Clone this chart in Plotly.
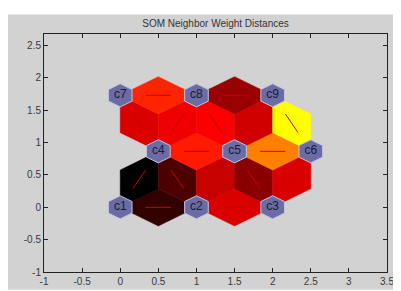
import numpy as np
import plotly.graph_objects as go
from plotly.colors import sample_colorscale

# Neuron positions (hextop 3x3)
neuron_labels = ["c1", "c2", "c3", "c4", "c5", "c6", "c7", "c8", "c9"]
neuron_x = [0.0, 1.0, 2.0, 0.5, 1.5, 2.5, 0.0, 1.0, 2.0]
neuron_y = [0.0, 0.0, 0.0, 0.866, 0.866, 0.866, 1.732, 1.732, 1.732]

# Neighbor pairs (indices into neurons) and normalized weight distances
edge_i = [0, 1, 0, 1, 1, 2, 2, 3, 4, 3, 3, 4, 4, 5, 6, 7]
edge_j = [1, 2, 3, 3, 4, 4, 5, 4, 5, 6, 7, 7, 8, 8, 7, 8]
edge_dist = [0.10, 0.43, 0.00, 0.15, 0.39, 0.27, 0.43, 0.55, 0.75,
             0.43, 0.47, 0.49, 0.41, 1.00, 0.57, 0.30]

x_ticks = [-1, -0.5, 0, 0.5, 1, 1.5, 2, 2.5, 3, 3.5]
y_ticks = [-1, -0.5, 0, 0.5, 1, 1.5, 2, 2.5]

hot = [[0, "#000000"], [0.5, "#ff0000"], [1, "#ffff00"]]
colors = sample_colorscale(hot, edge_dist)

z = np.sqrt(0.75) / 3
fig = go.Figure()

# Neighbor distance patches (rhombi)
for i, j, c in zip(edge_i, edge_j, colors):
    pi = np.array([neuron_x[i], neuron_y[i]])
    pj = np.array([neuron_x[j], neuron_y[j]])
    m = (pi + pj) / 2
    d = pj - pi
    d = d / np.linalg.norm(d)
    n = np.array([-d[1], d[0]])
    pts = [pi, m + n * z, pj, m - n * z, pi]
    fig.add_trace(go.Scatter(x=[p[0] for p in pts], y=[p[1] for p in pts],
                             mode="lines", fill="toself", fillcolor=c,
                             line=dict(color=c, width=0.5), hoverinfo="skip"))

# Red lines inside patches
for i, j in zip(edge_i, edge_j):
    pi = np.array([neuron_x[i], neuron_y[i]])
    pj = np.array([neuron_x[j], neuron_y[j]])
    p1 = (2 * pi + pj) / 3
    p2 = (pi + 2 * pj) / 3
    fig.add_trace(go.Scatter(x=[p1[0], p2[0]], y=[p1[1], p2[1]], mode="lines",
                             line=dict(color="#c80000", width=1), hoverinfo="skip"))

# Neuron hexagons
s = 0.31
hx = np.array([-1, 0, 1, 1, 0, -1, -1]) * 0.5 * s
hy = np.array([1, 2, 1, -1, -2, -1, 1]) * z * s
for x0, y0 in zip(neuron_x, neuron_y):
    fig.add_trace(go.Scatter(x=x0 + hx, y=y0 + hy, mode="lines", fill="toself",
                             fillcolor="#6b6ba5", line=dict(color="#c4c4dc", width=1),
                             hoverinfo="skip"))

fig.add_trace(go.Scatter(x=neuron_x, y=neuron_y, mode="text", text=neuron_labels,
                         textfont=dict(family="Liberation Sans, Arial", size=12, color="#1a1a38"),
                         hoverinfo="skip"))

# figure background panel
fig.add_shape(type="rect", xref="paper", yref="paper", layer="below",
              x0=-36 / 343, x1=(401 - 36) / 343 + 0.01,
              y0=-(291 - 269 - 4) / 243, y1=1 + 20 / 243,
              fillcolor="#d2d2d2", line=dict(width=0))

fig.update_layout(
    width=401, height=291,
    margin=dict(l=36, r=22, t=26, b=22),
    paper_bgcolor="white", plot_bgcolor="#808080",
    showlegend=False,
    title=dict(text="SOM Neighbor Weight Distances", x=207.5 / 401, xanchor="center",
               y=1 - 15 / 291, yanchor="middle", yref="container",
               font=dict(family="Liberation Sans, Arial", size=10, color="#333333")),
    font=dict(family="Liberation Sans, Arial", size=10, color="#3a3a3a"),
)
fig.update_xaxes(range=[-1, 3.5], tickvals=x_ticks, ticktext=[f"{v:g}" for v in x_ticks],
                 showgrid=False, zeroline=False, ticks="inside", ticklen=4,
                 tickcolor="#222", showline=True, linecolor="#222", linewidth=1,
                 mirror="ticks")
fig.update_yaxes(range=[-1, 2.68], tickvals=y_ticks, ticktext=[f"{v:g}" for v in y_ticks],
                 showgrid=False, zeroline=False, ticks="inside", ticklen=4,
                 tickcolor="#222", showline=True, linecolor="#222", linewidth=1,
                 mirror="ticks")

fig.write_html("out.html")
